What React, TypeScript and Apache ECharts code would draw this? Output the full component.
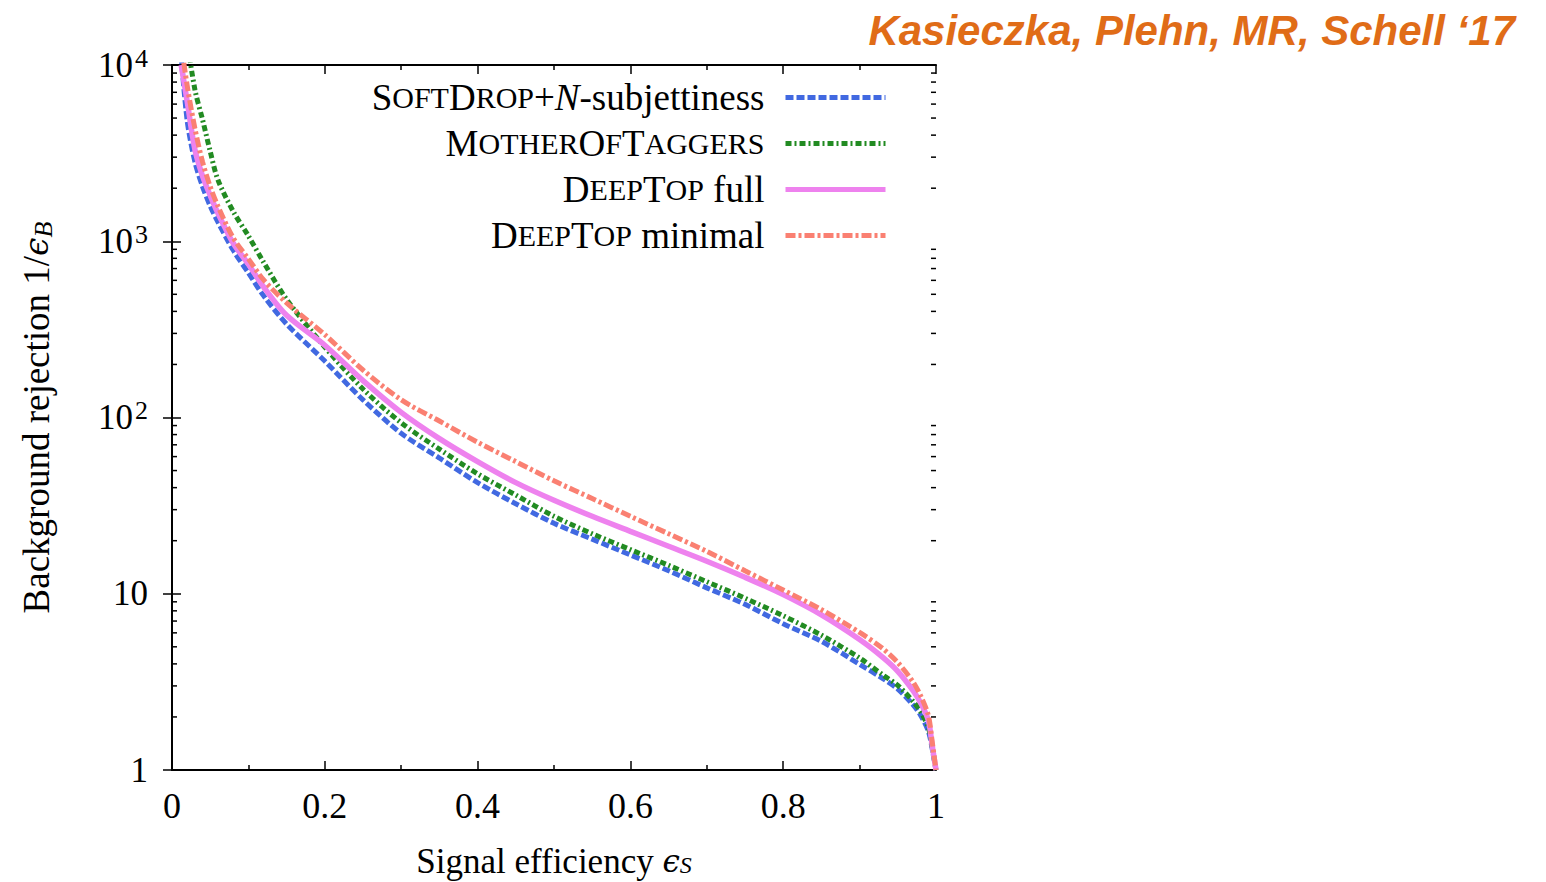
import React, { useEffect, useRef } from "react";
import * as echarts from "echarts";

// Signal efficiency grid (x) shared by all curves
const effS = [0.012, 0.02, 0.03, 0.04, 0.05, 0.06, 0.08, 0.1, 0.12, 0.15, 0.2, 0.25, 0.3, 0.35, 0.4, 0.45, 0.5, 0.55, 0.6, 0.65, 0.7, 0.75, 0.8, 0.85, 0.9, 0.93, 0.95, 0.97, 0.98, 0.99, 0.995, 1];

// Background rejection 1/eps_B
const softDrop = [11220, 4786, 2818, 2042, 1585, 1288, 891, 661, 490, 339, 209, 126, 81.3, 58.9, 42.7, 32.4, 25.1, 20.4, 16.6, 13.5, 10.8, 8.71, 6.76, 5.37, 3.98, 3.31, 2.88, 2.34, 2.04, 1.66, 1.32, 1];
const motherOfTaggers = [39800, 14125, 7244, 4898, 3236, 2239, 1479, 1072, 759, 468, 251, 145, 93.3, 66.1, 47.9, 36.3, 27.5, 21.9, 17.8, 14.5, 11.7, 9.44, 7.50, 5.82, 4.32, 3.47, 3.02, 2.45, 2.14, 1.74, 1.35, 1];
const deepTopFull = [10000, 6166, 3311, 2344, 1820, 1445, 977, 741, 550, 380, 257, 162, 107, 75.9, 56.2, 42.7, 33.9, 27.5, 22.6, 18.6, 15.3, 12.4, 9.89, 7.59, 5.50, 4.37, 3.63, 2.82, 2.40, 1.91, 1.38, 1];
const deepTopMinimal = [13183, 7586, 4365, 2818, 2042, 1585, 1047, 794, 603, 447, 295, 186, 126, 95.5, 72.4, 56.2, 43.7, 34.7, 27.5, 21.9, 17.4, 13.5, 10.5, 8.13, 6.03, 4.90, 4.07, 3.16, 2.63, 2.04, 1.45, 1];

const seriesNames = ["SoftDrop+N-subjettiness", "MotherOfTaggers", "DeepTop full", "DeepTop minimal"];
const seriesColors = ["#4169e1", "#228b22", "#ee82ee", "#fa8072"];
const legendLabels: Record<string, string> = {
  "SoftDrop+N-subjettiness": "{a|S}{b|OFT}{a|D}{b|ROP}{a|+}{i|N}{a|-subjettiness}",
  "MotherOfTaggers": "{a|M}{b|OTHER}{a|O}{b|F}{a|T}{b|AGGERS}",
  "DeepTop full": "{a|D}{b|EEP}{a|T}{b|OP}{a| full}",
  "DeepTop minimal": "{a|D}{b|EEP}{a|T}{b|OP}{a| minimal}",
};

const yDecades = [1, 10, 100, 1000];
const yMinorMultipliers = [2, 3, 4, 5, 6, 7, 8, 9];
const yMinorTicks = yDecades.flatMap((d) => yMinorMultipliers.map((m) => m * d));

const SERIF = "'Liberation Serif', 'DejaVu Serif', serif";

export default function App() {
  const ref = useRef<HTMLDivElement>(null);
  useEffect(() => {
    if (!ref.current) return;
    const chart = echarts.init(ref.current, null, { renderer: "svg" });
    const dashes: any[] = [[8, 3], [6, 3, 2, 3], "solid", [10, 3, 3, 3]];
    const widths = [5, 5, 5.5, 5];
    const dataSets = [softDrop, motherOfTaggers, deepTopFull, deepTopMinimal];
    const lineSeries = seriesNames.map((name, i) => ({
      name,
      type: "line",
      xAxisIndex: 0,
      yAxisIndex: 0,
      data: effS.map((x, k) => [x, dataSets[i][k]]),
      showSymbol: false,
      symbol: "none",
      smooth: 0.3,
      clip: true,
      lineStyle: { color: seriesColors[i], width: widths[i], type: dashes[i], cap: "butt" },
      itemStyle: { color: seriesColors[i] },
      z: 3 + i,
    }));
    const minorTickSeries = {
      type: "custom",
      xAxisIndex: 0,
      yAxisIndex: 0,
      silent: true,
      clip: false,
      z: 10,
      data: yMinorTicks.map((v) => [0, v]),
      renderItem: (params: any, api: any) => {
        const v = api.value(1);
        const p0 = api.coord([0, v]);
        const p1 = api.coord([1, v]);
        return {
          type: "group",
          children: [
            { type: "line", shape: { x1: p0[0], y1: p0[1], x2: p0[0] + 5, y2: p0[1] }, style: { stroke: "#000", lineWidth: 1.5 } },
            { type: "line", shape: { x1: p1[0] - 5, y1: p1[1], x2: p1[0], y2: p1[1] }, style: { stroke: "#000", lineWidth: 1.5 } },
          ],
        };
      },
    };
    const axisLine = { show: true, lineStyle: { color: "#000", width: 2 } };
    const axisTick = { show: true, inside: true, length: 9, lineStyle: { color: "#000", width: 1.5 } };
    const richY = {
      b: { fontFamily: SERIF, fontSize: 35, lineHeight: 40, color: "#000" },
      s: { fontFamily: SERIF, fontSize: 26, lineHeight: 40, verticalAlign: "top", padding: [0, 0, 0, 2], color: "#000" },
    };
    chart.setOption({
      animation: false,
      backgroundColor: "#fff",
      title: {
        text: "Kasieczka, Plehn, MR, Schell \u201817",
        right: 26,
        top: 4,
        textStyle: { color: "#e06c17", fontSize: 42, fontWeight: "bold", fontStyle: "italic", fontFamily: "'Liberation Sans', Arial, sans-serif" },
      },
      grid: { left: 172, width: 764, top: 65, height: 705, outerBoundsMode: "none", containLabel: false },
      legend: {
        orient: "vertical",
        right: 658,
        top: 79,
        padding: 0,
        align: "right",
        itemWidth: 100,
        itemHeight: 14,
        itemGap: 9,
        itemStyle: { opacity: 0 },
        lineStyle: { width: 5 },
        data: seriesNames,
        formatter: (name: string) => legendLabels[name],
        textStyle: {
          fontFamily: SERIF,
          fontSize: 37,
          lineHeight: 34,
          color: "#000",
          padding: [0, 16, 0, 0],
          rich: {
            a: { fontFamily: SERIF, fontSize: 37, lineHeight: 34, color: "#000" },
            b: { fontFamily: SERIF, fontSize: 30, lineHeight: 34, color: "#000" },
            i: { fontFamily: SERIF, fontSize: 37, lineHeight: 34, fontStyle: "italic", color: "#000" },
          },
        },
      },
      xAxis: [
        {
          type: "value",
          position: "bottom",
          min: 0,
          max: 1,
          interval: 0.2,
          axisLine,
          axisTick,
          minorTick: { show: true, splitNumber: 2, length: 5, lineStyle: { color: "#000", width: 1.5 } },
          splitLine: { show: false },
          axisLabel: {
            fontFamily: SERIF,
            fontSize: 36,
            color: "#000",
            margin: 18,
            formatter: (v: number) => String(+v.toFixed(1)),
          },
          name: "{a|Signal efficiency }{e|\u03f5}{s|S}",
          nameLocation: "middle",
          nameGap: 75,
          nameTextStyle: {
            fontFamily: SERIF,
            fontSize: 35,
            lineHeight: 32,
            color: "#000",
            rich: {
              a: { fontFamily: SERIF, fontSize: 35, lineHeight: 32, color: "#000" },
              e: { fontFamily: "'DejaVu Serif', serif", fontSize: 31, lineHeight: 32, fontStyle: "italic", color: "#000" },
              s: { fontFamily: SERIF, fontSize: 24, lineHeight: 32, fontStyle: "italic", verticalAlign: "bottom", color: "#000" },
            },
          },
        },
        {
          type: "value",
          position: "top",
          min: 0,
          max: 1,
          interval: 0.2,
          axisLine,
          axisTick,
          minorTick: { show: true, splitNumber: 2, length: 5, lineStyle: { color: "#000", width: 1.5 } },
          splitLine: { show: false },
          axisLabel: { show: false },
        },
      ],
      yAxis: [
        {
          type: "log",
          logBase: 10,
          position: "left",
          min: 1,
          max: 10000,
          splitNumber: 4,
          axisLine,
          axisTick,
          splitLine: { show: false },
          axisLabel: {
            fontFamily: SERIF,
            fontSize: 35,
            color: "#000",
            margin: 24,
            formatter: (v: number) => {
              if (v <= 1) return "1";
              if (v === 10) return "10";
              const e = Math.round(Math.log10(v));
              return `{b|10}{s|${e}}`;
            },
            rich: richY,
          },
          name: "{a|Background rejection 1/}{e|\u03f5}{s|B}",
          nameLocation: "middle",
          nameGap: 116,
          nameTextStyle: {
            fontFamily: SERIF,
            fontSize: 37,
            lineHeight: 40,
            color: "#000",
            rich: {
              a: { fontFamily: SERIF, fontSize: 37, lineHeight: 40, color: "#000" },
              e: { fontFamily: "'DejaVu Serif', serif", fontSize: 33, lineHeight: 40, fontStyle: "italic", color: "#000" },
              s: { fontFamily: SERIF, fontSize: 26, lineHeight: 40, fontStyle: "italic", verticalAlign: "bottom", color: "#000" },
            },
          },
        },
        {
          type: "log",
          logBase: 10,
          position: "right",
          min: 1,
          max: 10000,
          splitNumber: 4,
          axisLine,
          axisTick,
          splitLine: { show: false },
          axisLabel: { show: false },
        },
      ],
      series: [...lineSeries, minorTickSeries],
    });
    return () => chart.dispose();
  }, []);
  return <div ref={ref} style={{ position: "absolute", left: 0, top: 0, width: 1546, height: 882, background: "#fff" }} />;
}
